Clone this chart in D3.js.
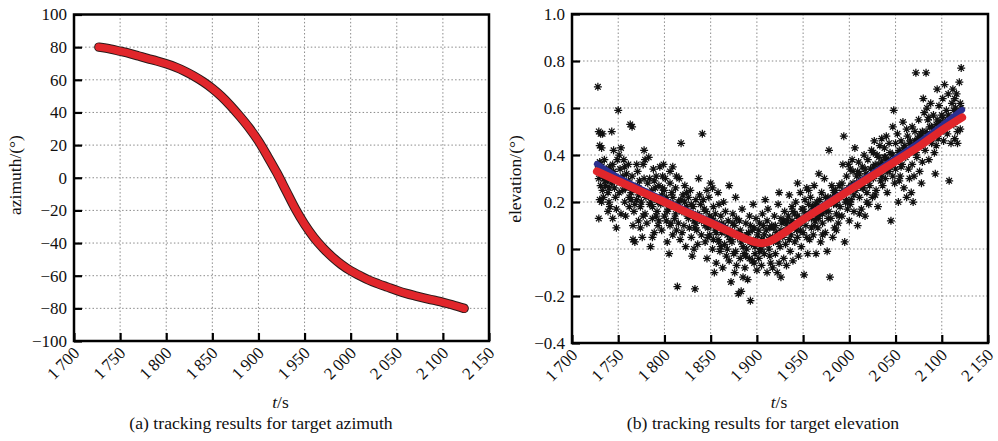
<!DOCTYPE html>
<html><head><meta charset="utf-8">
<script src="https://cdn.jsdelivr.net/npm/d3@7"></script>
<style>
body{margin:0;background:#fff}
svg{display:block}
svg text{font-family:"Liberation Serif","Times New Roman",Times,"Nimbus Roman","DejaVu Serif","Noto Serif",serif !important;fill:#111}
</style>
</head><body>
<svg id="c" width="998" height="441"></svg>
<script>
// ---------- data ----------
const xTicks = [1700,1750,1800,1850,1900,1950,2000,2050,2100,2150];
const azTicks = [-100,-80,-60,-40,-20,0,20,40,60,80,100];
const elTicks = [-0.4,-0.2,0,0.2,0.4,0.6,0.8,1.0];

const azTime  = [1727,1740,1750,1760,1770,1780,1790,1800,1810,1820,1830,1840,1850,1860,1870,1880,1890,1900,1910,1920,1930,1940,1950,1960,1970,1980,1990,2000,2010,2020,2030,2040,2050,2060,2070,2080,2090,2100,2110,2123];
const azValue = [80,78.8,77.5,76.2,74.6,73.0,71.5,69.8,67.8,65.3,62.3,58.8,54.7,49.8,44.0,37.5,30.5,22.5,13,3,-8,-19,-28.5,-36.5,-43,-48.5,-53.2,-57,-60,-62.8,-65,-67,-69,-70.8,-72.3,-73.7,-75,-76.3,-77.8,-80];

const fitTime = [1727,1750,1775,1800,1825,1850,1870,1880,1890,1897,1905,1912,1920,1930,1950,1975,2000,2025,2050,2075,2100,2122];
const fitRed  = [0.330,0.289,0.244,0.200,0.155,0.111,0.075,0.057,0.040,0.030,0.025,0.030,0.045,0.070,0.125,0.187,0.249,0.311,0.373,0.435,0.505,0.560];
const fitBlue = [0.362,0.305,0.255,0.208,0.162,0.117,0.080,0.060,0.042,0.031,0.025,0.031,0.047,0.073,0.130,0.193,0.257,0.321,0.386,0.452,0.525,0.592];

const elMeas = [
[1728,0.69],[1728,0.36],[1729,0.35],[1730,0.37],[1731,0.36],[1729,0.50],[1731,0.49],[1733,0.49],[1730,0.44],[1732,0.43],[1729,0.30],[1731,0.27],[1733,0.25],[1730,0.21],[1732,0.20],[1729,0.13],[1734,0.33],[1735,0.30],[1734,0.22],[1735,0.38],
[1737,0.34],[1738,0.29],[1739,0.24],[1740,0.20],[1741,0.18],[1742,0.31],[1743,0.50],[1744,0.36],[1745,0.42],[1746,0.26],[1747,0.22],[1748,0.09],[1744,0.13],[1749,0.38],[1750,0.30],[1736,0.27],[1741,0.35],[1745,0.33],[1739,0.16],[1748,0.17],[1750,0.59],
[1751,0.40],[1752,0.34],[1753,0.43],[1754,0.28],[1755,0.25],[1756,0.38],[1757,0.20],[1758,0.14],[1759,0.32],[1760,0.27],[1761,0.36],[1762,0.18],[1763,0.53],[1765,0.52],[1766,0.10],[1764,0.24],[1765,0.31],[1753,0.15],[1757,0.35],[1762,0.22],
[1766,0.04],[1768,0.03],[1767,0.16],[1768,0.26],[1770,0.21],[1771,0.33],[1772,0.12],[1773,0.29],[1774,0.18],[1775,0.25],[1776,0.05],[1777,0.36],[1778,0.42],[1779,0.15],[1780,0.22],[1770,0.36],[1774,0.09],[1778,0.30],[1772,0.23],[1779,0.38],
[1781,0.11],[1782,0.28],[1783,0.39],[1784,0.19],[1785,0.01],[1786,0.25],[1787,0.13],[1788,0.34],[1789,0.07],[1790,0.22],[1791,0.31],[1792,0.16],[1793,0.10],[1794,0.27],[1795,0.35],[1785,0.20],[1789,0.29],[1793,0.20],[1787,0.05],[1791,0.14],
[1796,0.19],[1797,0.08],[1798,0.26],[1799,0.36],[1800,0.14],[1801,0.30],[1802,0.22],[1803,0.03],[1804,0.17],[1805,-0.02],[1806,0.33],[1807,0.11],[1808,0.24],[1809,0.06],[1810,0.19],[1798,0.31],[1802,0.12],[1806,0.28],[1809,0.35],[1804,0.20],
[1811,0.13],[1812,0.26],[1813,0.08],[1814,-0.16],[1815,0.20],[1816,0.30],[1817,0.04],[1818,0.45],[1819,0.16],[1820,0.23],[1821,0.10],[1822,0.27],[1823,0.01],[1824,0.18],[1825,0.14],[1813,0.31],[1819,0.07],[1822,0.20],[1816,0.17],[1824,0.24],
[1826,0.22],[1827,0.09],[1828,0.15],[1829,0.05],[1830,-0.03],[1831,0.18],[1832,0.12],[1833,-0.17],[1834,0.21],[1835,0.08],[1836,0.02],[1837,0.30],[1838,0.14],[1839,0.19],[1840,0.06],[1841,0.49],[1828,0.25],[1834,0.11],[1838,0.23],[1832,0.00],
[1842,0.21],[1843,0.12],[1844,0.03],[1845,0.16],[1846,-0.04],[1847,0.09],[1848,0.22],[1849,0.06],[1850,0.28],[1851,0.13],[1852,0.00],[1853,0.18],[1854,-0.10],[1855,0.08],[1846,0.25],[1852,0.26],[1844,0.10],[1849,0.14],[1853,0.04],[1855,0.15],
[1856,-0.06],[1857,0.11],[1858,0.04],[1859,0.19],[1860,-0.01],[1861,0.14],[1862,0.07],[1863,-0.08],[1864,0.10],[1865,0.02],[1866,0.16],[1867,-0.03],[1868,0.06],[1869,0.12],[1870,-0.05],[1858,0.24],[1864,0.20],[1870,0.27],[1866,0.09],[1861,0.01],
[1871,0.08],[1872,-0.14],[1873,0.03],[1874,0.15],[1875,-0.02],[1876,0.10],[1877,0.22],[1878,-0.07],[1879,0.05],[1880,-0.19],[1881,0.12],[1882,-0.04],[1883,-0.18],[1884,0.17],[1885,0.01],[1874,0.06],[1878,0.13],[1882,0.08],[1876,-0.10],[1885,-0.12],
[1886,0.05],[1887,-0.08],[1888,0.11],[1889,0.00],[1890,-0.13],[1891,0.07],[1892,0.14],[1893,-0.22],[1894,0.02],[1895,-0.05],[1896,0.19],[1897,0.09],[1898,-0.02],[1899,0.04],[1900,-0.09],[1888,-0.03],[1893,0.10],[1897,-0.06],[1890,0.04],[1899,0.13],
[1901,0.06],[1902,-0.04],[1903,0.11],[1904,0.01],[1905,-0.07],[1906,0.15],[1907,0.03],[1908,-0.02],[1909,0.21],[1910,0.08],[1911,-0.10],[1912,0.17],[1913,0.00],[1914,0.05],[1915,-0.06],[1903,-0.01],[1907,0.10],[1911,0.12],[1914,-0.03],[1905,0.04],
[1916,0.10],[1917,-0.08],[1918,0.03],[1919,0.14],[1920,-0.02],[1921,0.07],[1922,-0.10],[1923,0.19],[1924,0.24],[1925,0.01],[1926,-0.12],[1927,0.11],[1928,0.05],[1929,-0.04],[1930,0.16],[1918,0.09],[1922,0.04],[1926,0.08],[1929,0.12],[1924,-0.06],
[1931,0.02],[1932,-0.07],[1933,0.09],[1934,0.14],[1935,0.23],[1936,-0.01],[1937,0.06],[1938,0.18],[1939,-0.05],[1940,0.11],[1941,0.03],[1942,0.20],[1943,0.08],[1944,0.28],[1945,-0.03],[1933,0.12],[1937,0.10],[1941,0.15],[1944,0.05],[1939,0.16],
[1946,0.13],[1947,0.24],[1948,0.01],[1949,0.17],[1950,0.07],[1951,-0.11],[1952,0.21],[1953,0.10],[1954,0.26],[1955,-0.02],[1956,0.15],[1957,0.04],[1958,0.22],[1959,0.09],[1960,0.18],[1948,0.11],[1952,0.15],[1956,0.25],[1959,0.13],[1954,0.05],
[1961,0.06],[1962,0.27],[1963,0.12],[1964,-0.02],[1965,0.20],[1966,0.09],[1967,0.32],[1968,0.15],[1969,0.03],[1970,0.24],[1971,0.11],[1972,0.18],[1973,0.30],[1974,0.07],[1975,0.16],[1963,0.19],[1967,0.13],[1971,0.06],[1974,0.22],[1965,0.14],
[1976,-0.01],[1977,0.22],[1978,0.42],[1979,-0.12],[1980,0.13],[1981,0.27],[1982,0.05],[1983,0.19],[1984,0.09],[1985,0.25],[1986,0.15],[1987,0.21],[1988,0.11],[1989,0.27],[1990,0.18],[1978,0.16],[1982,0.22],[1986,0.08],[1989,0.14],[1984,0.24],
[1991,0.23],[1992,0.14],[1993,0.36],[1994,0.48],[1995,0.03],[1996,0.20],[1997,0.31],[1998,0.17],[1999,0.26],[2000,0.12],[2001,0.34],[2002,0.21],[2003,0.38],[2004,0.28],[2005,0.16],[1993,0.25],[1997,0.21],[2001,0.19],[2004,0.33],[1999,0.36],
[2006,0.43],[2007,0.25],[2008,0.31],[2009,0.10],[2010,0.37],[2011,0.22],[2012,0.29],[2013,0.17],[2014,0.35],[2015,0.26],[2016,0.40],[2017,0.14],[2018,0.32],[2019,0.24],[2020,0.38],[2009,0.33],[2013,0.27],[2017,0.30],[2011,0.15],[2019,0.20],
[2021,0.19],[2022,0.27],[2023,0.34],[2024,0.42],[2025,0.22],[2026,0.30],[2027,0.46],[2028,0.36],[2029,0.25],[2030,0.40],[2031,0.18],[2032,0.33],[2033,0.44],[2034,0.29],[2035,0.37],[2024,0.31],[2028,0.23],[2032,0.39],[2026,0.41],[2035,0.47],
[2036,0.27],[2037,0.35],[2038,0.43],[2039,0.30],[2040,0.48],[2041,0.24],[2042,0.38],[2043,0.33],[2044,0.41],[2045,0.12],[2046,0.36],[2047,0.52],[2048,0.59],[2049,0.28],[2050,0.45],[2039,0.39],[2043,0.45],[2047,0.31],[2050,0.34],[2041,0.33],
[2051,0.38],[2052,0.49],[2053,0.20],[2054,0.42],[2055,0.31],[2056,0.46],[2057,0.36],[2058,0.54],[2059,0.26],[2060,0.44],[2061,0.39],[2062,0.22],[2063,0.48],[2064,0.34],[2065,0.41],[2054,0.29],[2058,0.40],[2062,0.51],[2065,0.30],[2056,0.35],
[2066,0.46],[2067,0.24],[2068,0.36],[2069,0.20],[2070,0.43],[2071,0.50],[2072,0.75],[2073,0.39],[2074,0.47],[2075,0.55],[2076,0.33],[2077,0.44],[2078,0.28],[2079,0.50],[2080,0.64],[2068,0.52],[2072,0.41],[2076,0.48],[2079,0.37],[2070,0.31],
[2081,0.58],[2082,0.42],[2083,0.75],[2084,0.49],[2085,0.55],[2086,0.38],[2087,0.52],[2088,0.62],[2089,0.45],[2090,0.48],[2091,0.57],[2092,0.41],[2093,0.32],[2094,0.53],[2095,0.68],[2084,0.60],[2088,0.46],[2091,0.50],[2094,0.44],[2086,0.56],
[2096,0.47],[2097,0.61],[2098,0.54],[2099,0.50],[2100,0.57],[2101,0.64],[2102,0.46],[2103,0.70],[2104,0.52],[2105,0.59],[2106,0.49],[2107,0.66],[2108,0.29],[2109,0.55],[2110,0.45],[2111,0.62],[2112,0.68],
[2113,0.53],[2114,0.47],[2115,0.60],[2116,0.66],[2117,0.50],[2118,0.56],[2119,0.71],[2120,0.62],[2121,0.77],[2120,0.51],[2117,0.45],[2115,0.56],[2119,0.58],[2121,0.60],[2114,0.64],
[1733,0.31],[1736,0.29],[1740,0.26],[1743,0.28],[1747,0.30],[1751,0.24],[1755,0.31],[1758,0.26],[1761,0.29],[1764,0.21],
[1768,0.19],[1771,0.27],[1775,0.20],[1777,0.14],[1781,0.24],[1784,0.30],[1787,0.18],[1790,0.26],[1794,0.12],[1797,0.23],[1800,0.25],
[1803,0.16],[1806,0.10],[1809,0.22],[1812,0.15],[1815,0.11],[1818,0.21],[1821,0.16],[1826,0.13],[1829,0.19],[1833,0.09],[1836,0.15],[1840,0.12],[1843,0.17],[1847,0.05],[1850,0.10],
[1853,0.12],[1856,0.07],[1859,0.03],[1862,0.11],[1865,0.08],[1868,0.00],[1871,0.04],[1874,0.11],[1877,-0.01],[1880,0.07],[1883,0.03],[1886,-0.02],[1889,0.06],[1892,-0.04],[1895,0.08],[1898,0.01],
[1902,0.08],[1905,0.00],[1908,0.06],[1911,0.02],[1914,0.09],[1917,0.05],[1920,0.10],[1923,0.03],[1926,0.13],[1929,0.07],[1932,0.11],[1935,0.04],[1938,0.12],[1941,0.09],[1944,0.14],[1947,0.08],[1950,0.17],
[1953,0.13],[1956,0.19],[1959,0.16],[1962,0.10],[1965,0.17],[1968,0.21],[1971,0.15],[1974,0.19],[1977,0.13],[1980,0.21],[1983,0.25],[1986,0.19],[1989,0.22],[1992,0.28],[1995,0.24],[1998,0.20],
[2002,0.27],[2005,0.23],[2008,0.28],[2011,0.32],[2014,0.26],[2017,0.34],[2020,0.29],[2023,0.30],[2026,0.35],[2029,0.32],[2032,0.36],[2035,0.31],[2038,0.39],[2041,0.37],[2044,0.35],[2047,0.40],[2050,0.38],
[2053,0.41],[2056,0.39],[2059,0.43],[2062,0.42],[2065,0.45],[2068,0.43],[2071,0.46],[2074,0.44],[2077,0.49],[2080,0.47],[2083,0.50],[2086,0.48],[2089,0.52],[2092,0.51],[2095,0.55],[2098,0.52],[2101,0.56],[2104,0.54],[2107,0.57],[2110,0.56],[2113,0.59],[2116,0.57]
];

const captions = ["(a) tracking results for target azimuth", "(b) tracking results for target elevation"];
const yLabels = ["azimuth/(°)", "elevation/(°)"];

// ---------- drawing ----------
const FONT = '"Liberation Serif","Times New Roman",Times,"Nimbus Roman","DejaVu Serif","Noto Serif",serif';
const svg = d3.select("#c");
const minus = s => s.replace("-", "\u2212");
const xFmt = d => { const s = String(d); return s.slice(0, 1) + "\u2009" + s.slice(1); };

const asterisk = {
  draw(ctx, size) {
    const r = Math.sqrt(size) / 2, d = r * Math.SQRT1_2;
    ctx.moveTo(-r, 0); ctx.lineTo(r, 0);
    ctx.moveTo(0, -r); ctx.lineTo(0, r);
    ctx.moveTo(-d, -d); ctx.lineTo(d, d);
    ctx.moveTo(-d, d); ctx.lineTo(d, -d);
  }
};

function panel(cfg) {
  const x = d3.scaleLinear().domain([1700, 2150]).range([cfg.l, cfg.r]);
  const y = d3.scaleLinear().domain(cfg.yDomain).range([cfg.b, cfg.t]);
  const g = svg.append("g").attr("font-family", FONT);

  // grid
  const grid = g.append("g").attr("stroke", "#8a8a8a").attr("stroke-width", 1).attr("stroke-dasharray", "1.5,2.2");
  grid.selectAll(".gx").data(xTicks.slice(1, -1)).join("line")
    .attr("x1", d => x(d)).attr("x2", d => x(d)).attr("y1", cfg.t).attr("y2", cfg.b);
  grid.selectAll(".gy").data(cfg.yTicks.slice(1, -1)).join("line")
    .attr("y1", d => y(d)).attr("y2", d => y(d)).attr("x1", cfg.l).attr("x2", cfg.r);

  cfg.drawData(g, x, y);

  // axes (inward ticks)
  const ax = g.append("g").attr("transform", `translate(0,${cfg.b})`)
    .call(d3.axisBottom(x).tickValues(xTicks).tickSize(-8).tickFormat(xFmt))
    .attr("font-family", FONT);
  ax.select(".domain").remove();
  ax.selectAll("line").attr("stroke", "#000").attr("stroke-width", 2.2);
  ax.selectAll("text").attr("x", 0).attr("y", 0).attr("dy", null)
    .attr("text-anchor", "end").attr("font-size", 17).attr("fill", "#111")
    .attr("transform", "translate(6,13) rotate(-45)");

  const ay = g.append("g").attr("transform", `translate(${cfg.l},0)`)
    .call(d3.axisLeft(y).tickValues(cfg.yTicks).tickSize(-8).tickPadding(7).tickFormat(cfg.yFmt))
    .attr("font-family", FONT);
  ay.select(".domain").remove();
  ay.selectAll("line").attr("stroke", "#000").attr("stroke-width", 2.2);
  ay.selectAll("text").attr("font-size", 17).attr("fill", "#111").attr("x", -7);

  // frame
  g.append("rect").attr("x", cfg.l).attr("y", cfg.t).attr("width", cfg.r - cfg.l).attr("height", cfg.b - cfg.t)
    .attr("fill", "none").attr("stroke", "#000").attr("stroke-width", 2.5);

  // labels
  g.append("text").attr("transform", `translate(${cfg.yLabX},${cfg.yLabY}) rotate(-90)`)
    .attr("text-anchor", "middle").attr("font-size", 17.5).text(cfg.yLabel);
  const tl = g.append("text").attr("x", (cfg.l + cfg.r) / 2 - 1).attr("y", 408).attr("text-anchor", "middle").attr("font-size", 17.5);
  tl.append("tspan").attr("font-style", "italic").text("t");
  tl.append("tspan").text("/s");
  g.append("text").attr("x", cfg.capX).attr("y", 429).attr("text-anchor", "middle").attr("font-size", 17.7).text(cfg.caption);
}

// (a) azimuth
panel({
  l: 74, r: 489, t: 14.5, b: 341,
  yDomain: [-100, 100], yTicks: azTicks,
  yFmt: d => minus(String(d)),
  yLabel: yLabels[0], yLabX: 21, yLabY: 175,
  caption: captions[0], capX: 261,
  drawData(g, x, y) {
    const pts = azTime.map((t, i) => [t, azValue[i]]);
    const line = d3.line().x(d => x(d[0])).y(d => y(d[1])).curve(d3.curveMonotoneX);
    g.append("path").datum(pts).attr("d", line).attr("fill", "none").attr("stroke", "#2a1a1a").attr("stroke-width", 9.5).attr("stroke-linecap", "round");
    g.append("path").datum(pts).attr("d", line).attr("fill", "none").attr("stroke", "#e1262b").attr("stroke-width", 7.5).attr("stroke-linecap", "round");
  }
});

// (b) elevation
panel({
  l: 572, r: 988, t: 14, b: 343,
  yDomain: [-0.4, 1.0], yTicks: elTicks,
  yFmt: d => d === 0 ? "0" : minus(d3.format(".1f")(d)),
  yLabel: yLabels[1], yLabX: 521, yLabY: 179,
  caption: captions[1], capX: 763,
  drawData(g, x, y) {
    g.append("g").selectAll("path").data(elMeas).join("path")
      .attr("transform", d => `translate(${x(d[0])},${y(d[1])})`)
      .attr("d", d3.symbol(asterisk, 64)).attr("stroke", "#111").attr("stroke-width", 1.25).attr("fill", "none");
    const line = d3.line().x(d => x(d[0])).y(d => y(d[1])).curve(d3.curveMonotoneX);
    g.append("path").datum(fitTime.map((t, i) => [t, fitBlue[i]])).attr("d", line)
      .attr("fill", "none").attr("stroke", "#2b2f8f").attr("stroke-width", 6).attr("stroke-linecap", "round");
    g.append("path").datum(fitTime.map((t, i) => [t, fitRed[i]])).attr("d", line)
      .attr("fill", "none").attr("stroke", "#e1262b").attr("stroke-width", 8).attr("stroke-linecap", "round");
  }
});
</script>
</body></html>
